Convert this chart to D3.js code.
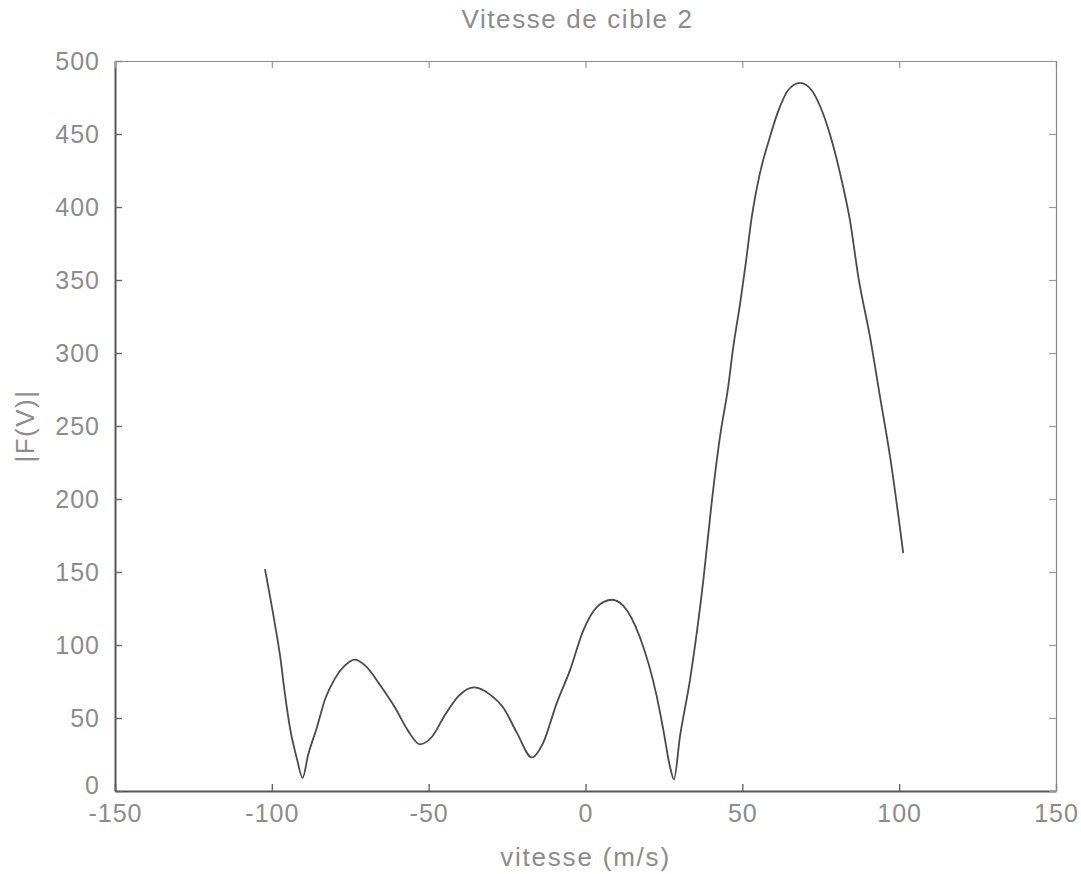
<!DOCTYPE html>
<html>
<head>
<meta charset="utf-8">
<script src="https://cdn.jsdelivr.net/npm/d3@7"></script>
<style>
  html, body { margin: 0; padding: 0; background: #fff; }
  svg { display: block; }
  text { font-family: "Liberation Sans", Arial, Helvetica, sans-serif; }
</style>
</head>
<body>
<svg id="chart" width="1081" height="874"></svg>
<script>
// Velocity samples (m/s) and spectrum magnitude |F(V)|
const vitesse = [
  -102.2, -99, -97.4, -95.8, -94.2, -92, -90.2, -88.4, -85.7, -83, -79.9,
  -76.7, -73.5, -70.3, -65, -60.7, -56.5, -52.8, -49, -44.8, -40.5, -35.5,
  -30.4, -26.2, -21.9, -17.1, -13.5, -9.2, -4.9, -0.7, 3.6, 8.4, 12, 17.4,
  22.7, 24.8, 26.9, 28.2, 30.1, 33.3, 37.6, 40.2, 42.9, 45.5, 47.1, 49.3,
  51, 53, 55.6, 58.8, 61.5, 64.6, 68.4, 72.1, 74.8, 77.9, 81.7, 84.3, 87,
  90.7, 93.9, 97.1, 101.3
];
const amplitude = [
  152, 114, 93, 66, 43, 22, 9, 25, 43, 63, 77,
  86, 90, 86, 71, 57, 41, 32, 37, 52, 65, 71,
  66, 57, 40, 23, 33, 60, 83, 110, 126, 131, 127, 105,
  65, 42, 17, 8, 37, 76, 145, 197, 243, 277, 304, 334,
  360, 393, 423, 448, 466, 480, 485, 480, 469, 450, 418, 391, 352,
  311, 270, 229, 163
];
const xTicks = [-150, -100, -50, 0, 50, 100, 150];
const yTicks = [0, 50, 100, 150, 200, 250, 300, 350, 400, 450, 500];
const titleText = "Vitesse de cible 2";
const xLabel = "vitesse (m/s)";
const yLabel = "|F(V)|";

const svg = d3.select("#chart");
const margin = { left: 115, right: 1081 - 1056, top: 61, bottom: 874 - 791 };
const W = 1081, H = 874;

const x = d3.scaleLinear().domain([-150, 150]).range([margin.left, W - margin.right]);
const y = d3.scaleLinear().domain([0, 500]).range([H - margin.bottom, margin.top]);

const textColor = "#8c8c8c";
const fontSize = 25;
const fmt = d => String(d); // plain hyphen-minus, as in the plotting tool

// Frame: left and bottom axes with inward ticks
const gx = svg.append("g").attr("transform", `translate(0,${y(0)})`)
  .call(d3.axisBottom(x).tickValues(xTicks).tickFormat(fmt)
    .tickSizeInner(-7).tickSizeOuter(0).tickPadding(13));
const gy = svg.append("g").attr("transform", `translate(${x(-150)},0)`)
  .call(d3.axisLeft(y).tickValues(yTicks).tickFormat(fmt)
    .tickSizeInner(-7).tickSizeOuter(0).tickPadding(15));

// Mirrored axes on top and right
const gt = svg.append("g").attr("transform", `translate(0,${y(500)})`)
  .call(d3.axisTop(x).tickValues(xTicks).tickSizeInner(-7).tickSizeOuter(0).tickFormat(""));
const gr = svg.append("g").attr("transform", `translate(${x(150)},0)`)
  .call(d3.axisRight(y).tickValues(yTicks).tickSizeInner(-7).tickSizeOuter(0).tickFormat(""));

[gx, gy].forEach(g => {
  g.select(".domain").attr("stroke", "#555").attr("stroke-width", 2);
  g.selectAll(".tick line").attr("stroke", "#666").attr("stroke-width", 1.4);
  g.selectAll(".tick text").attr("fill", textColor)
    .style("font-size", fontSize + "px")
    .style("letter-spacing", "1px")
    .attr("font-family", "Liberation Sans, Arial, sans-serif");
});
// The zero label on the y axis sits just above the x labels
gy.selectAll(".tick").filter(d => d === 0).select("text").attr("dy", "0.1em");

[gt, gr].forEach(g => {
  g.select(".domain").attr("stroke", "#888").attr("stroke-width", 1.2);
  g.selectAll(".tick line").attr("stroke", "#999").attr("stroke-width", 1.2);
});

// Magnitude curve
const pts = vitesse.map((v, i) => [v, amplitude[i]]);
const line = d3.line().x(d => x(d[0])).y(d => y(d[1])).curve(d3.curveMonotoneX);
svg.append("path")
  .datum(pts)
  .attr("d", line)
  .attr("fill", "none")
  .attr("stroke", "#4a4a4a")
  .attr("stroke-width", 1.8)
  .attr("stroke-linejoin", "round");

// Title and axis labels
const labelSize = 26;
svg.append("text")
  .attr("x", (x(-150) + x(150)) / 2 - 8)
  .attr("y", 28)
  .attr("text-anchor", "middle")
  .attr("fill", textColor)
  .style("font-size", labelSize + "px")
  .style("letter-spacing", "1.6px")
  .text(titleText);

svg.append("text")
  .attr("x", (x(-150) + x(150)) / 2)
  .attr("y", 866)
  .attr("text-anchor", "middle")
  .attr("fill", textColor)
  .style("font-size", labelSize + "px")
  .style("letter-spacing", "1.8px")
  .text(xLabel);

svg.append("text")
  .attr("transform", `translate(34,${(y(0) + y(500)) / 2}) rotate(-90)`)
  .attr("text-anchor", "middle")
  .attr("fill", textColor)
  .style("font-size", labelSize + "px")
  .style("letter-spacing", "1.5px")
  .text(yLabel);
</script>
</body>
</html>
